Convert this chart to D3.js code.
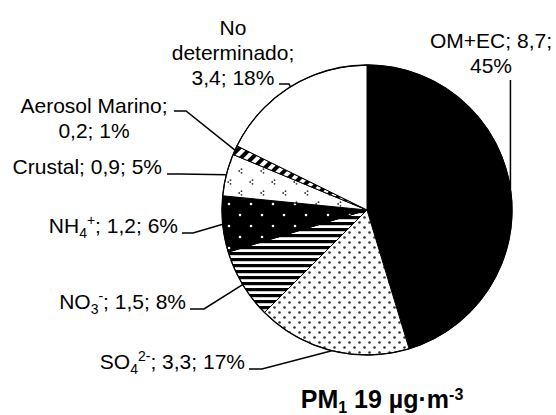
<!DOCTYPE html>
<html>
<head>
<meta charset="utf-8">
<script src="https://cdn.jsdelivr.net/npm/d3@7/dist/d3.min.js"></script>
<style>
  body { margin: 0; background: #fff; }
  text { font-family: "Liberation Sans", Arial, sans-serif; fill: #000; }
</style>
</head>
<body>
<script>
// PM1 chemical composition (ug/m3), slices clockwise from 12 o'clock
var names = ["OM+EC", "SO_{4}^{2-}", "NO_{3}^{-}", "NH_{4}^{+}", "Crustal", "Aerosol Marino", "No determinado"];
var values = [8.7, 3.3, 1.5, 1.2, 0.9, 0.2, 3.4];
var percents = [45, 17, 8, 6, 5, 1, 18];
var fills = ["black", "url(#dots)", "url(#hstripes)", "url(#wdots)", "url(#clover)", "url(#diag)", "white"];

// label placement: text anchor, baseline of first line, words per line, leader start + elbow
var labelPos = [
	{x: 491, y: 48, anchor: "middle", lines: [2, 1], lx: null, ly: 80, ex: null},
	{x: 245, y: 369, anchor: "end", lines: [4], lx: 249, ly: 369, ex: 262},
	{x: 186, y: 309, anchor: "end", lines: [4], lx: 190, ly: 309, ex: 204},
	{x: 178, y: 233, anchor: "end", lines: [4], lx: 182, ly: 233, ex: 193},
	{x: 162, y: 174, anchor: "end", lines: [4], lx: 167, ly: 174, ex: 180},
	{x: 94, y: 113, anchor: "middle", lines: [2, 2], lx: 174, ly: 111, ex: 186},
	{x: 233, y: 35, anchor: "middle", lines: [1, 1, 2], lx: 279, ly: 84, ex: 289}
];

var width = 556, height = 415;
var cx = 367, cy = 210, r = 145;

var svg = d3.select('body').append('svg')
		.attr('width', width)
		.attr('height', height);

// patterns
var defs = svg.append('defs');

var p = defs.append('pattern').attr('id', 'dots')
	.attr('patternUnits', 'userSpaceOnUse').attr('width', 10).attr('height', 10);
p.append('rect').attr('width', 10).attr('height', 10).attr('fill', 'white');
p.append('circle').attr('cx', 2.5).attr('cy', 2.5).attr('r', 1.3).attr('fill', '#333');
p.append('circle').attr('cx', 7.5).attr('cy', 7.5).attr('r', 1.3).attr('fill', '#333');

p = defs.append('pattern').attr('id', 'hstripes')
	.attr('patternUnits', 'userSpaceOnUse').attr('width', 6).attr('height', 6);
p.append('rect').attr('width', 6).attr('height', 6).attr('fill', 'white');
p.append('rect').attr('width', 6).attr('height', 3.2).attr('fill', 'black');

p = defs.append('pattern').attr('id', 'wdots')
	.attr('patternUnits', 'userSpaceOnUse').attr('width', 22).attr('height', 22);
p.append('rect').attr('width', 22).attr('height', 22).attr('fill', 'black');
p.append('circle').attr('cx', 5).attr('cy', 5).attr('r', 1.3).attr('fill', 'white');
p.append('circle').attr('cx', 16).attr('cy', 16).attr('r', 1.3).attr('fill', 'white');

p = defs.append('pattern').attr('id', 'clover')
	.attr('patternUnits', 'userSpaceOnUse').attr('width', 22).attr('height', 22);
p.append('rect').attr('width', 22).attr('height', 22).attr('fill', 'white');
[[5, 5], [16, 16]].forEach(function(c) {
	[[1.5, -1.8], [-0.8, 0], [1.5, 1.8]].forEach(function(o) {
		p.append('circle').attr('cx', c[0] + o[0]).attr('cy', c[1] + o[1]).attr('r', 0.9).attr('fill', '#333');
	});
});

p = defs.append('pattern').attr('id', 'diag')
	.attr('patternUnits', 'userSpaceOnUse').attr('width', 8).attr('height', 8)
	.attr('patternTransform', 'rotate(45)');
p.append('rect').attr('width', 8).attr('height', 8).attr('fill', 'white');
p.append('rect').attr('width', 4).attr('height', 8).attr('fill', 'black');

// pie
var pie = d3.pie().sort(null).value(function(d) { return d; });
var arc = d3.arc().innerRadius(0).outerRadius(r);
var arcs = pie(values);

var g = svg.append('g').attr('transform', 'translate(' + cx + ',' + cy + ')');
g.selectAll('path.slice')
	.data(arcs)
	.enter().append('path')
		.attr('class', 'slice')
		.attr('d', arc)
		.attr('fill', function(d, i) { return fills[i]; })
		.attr('stroke', 'black')
		.attr('stroke-width', 1);
g.append('circle').attr('r', r).attr('fill', 'none').attr('stroke', 'black').attr('stroke-width', 1.3);

// leader lines to the slice edge at mid angle
arcs.forEach(function(a, i) {
	var m = (a.startAngle + a.endAngle) / 2;
	var px = cx + r * Math.sin(m), py = cy - r * Math.cos(m);
	var L = labelPos[i];
	var lx = L.lx == null ? px : L.lx;
	var ex = L.ex == null ? px : L.ex;
	svg.append('polyline')
		.attr('points', [[lx, L.ly], [ex, L.ly], [px, py]].map(function(q) { return q.join(','); }).join(' '))
		.attr('fill', 'none')
		.attr('stroke', 'black')
		.attr('stroke-width', 1.5);
});

// labels with sub/superscripts
function fmt(v) { return String(v).replace('.', ','); }

function addRich(textSel, word, smallSize) {
	var parts = word.split(/(_\{[^}]*\}|\^\{[^}]*\})/).filter(function(s) { return s.length; });
	var shift = 0;
	parts.forEach(function(s) {
		var t = textSel.append('tspan');
		var target = 0, content = s, small = false;
		if (s[0] === '_') { target = 5; content = s.slice(2, -1); small = true; }
		else if (s[0] === '^') { target = -8; content = s.slice(2, -1); small = true; }
		t.attr('dy', target - shift).text(content);
		if (small) t.attr('font-size', smallSize || 14);
		shift = target;
	});
	if (shift) textSel.append('tspan').attr('dy', -shift).text('');
}

names.forEach(function(name, i) {
	var L = labelPos[i];
	var words = (name + '; ' + fmt(values[i]) + '; ' + percents[i] + '%').split(' ');
	var k = 0;
	L.lines.forEach(function(n, li) {
		var t = svg.append('text')
			.attr('x', L.x)
			.attr('y', L.y + li * 25)
			.attr('text-anchor', L.anchor)
			.attr('font-size', 21);
		addRich(t, words.slice(k, k + n).join(' '));
		k += n;
	});
});

// title
var title = svg.append('text')
	.attr('x', 382).attr('y', 408)
	.attr('text-anchor', 'middle')
	.attr('font-size', 25)
	.attr('font-weight', 'bold');
addRich(title, 'PM_{1} 19 µg·m^{-3}', 16);
</script>
</body>
</html>
